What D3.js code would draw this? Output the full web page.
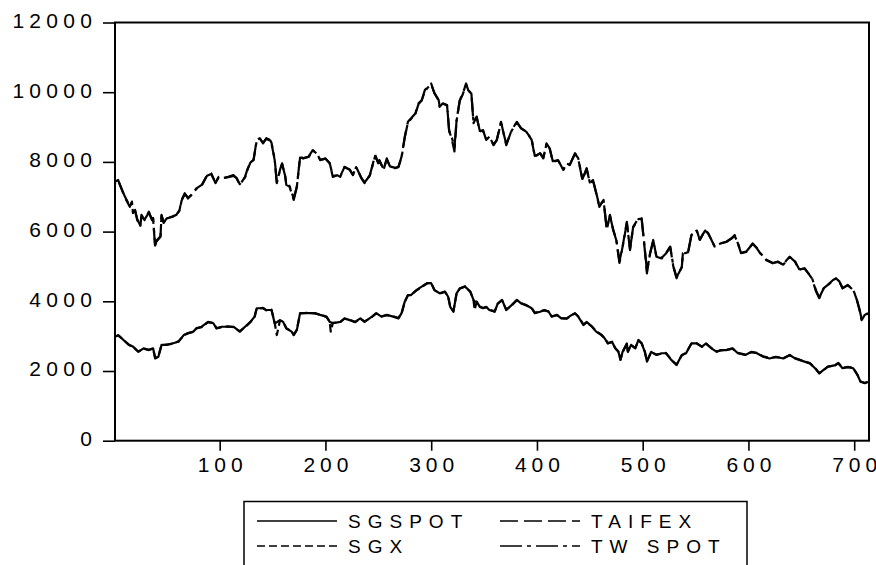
<!DOCTYPE html>
<html>
<head>
<meta charset="utf-8">
<script src="https://cdn.jsdelivr.net/npm/d3@7"></script>
<style>
  body { margin: 0; background: #fff; }
  svg { display: block; }
  text { font-family: "Liberation Sans", Arial, sans-serif; fill: #000; }
</style>
</head>
<body>
<svg id="chart" width="876" height="565"></svg>
<script>
// Observation numbers for the Taiwan index pair (TAIFEX futures, TW spot)
const obsUpper = [
  1,4,10,15,17,18,20,22,25,26,
  29,33,36,37,39,40,44,45,47,50,
  55,59,62,64,67,70,73,78,83,88,
  92,96,99,103,108,113,116,119,124,126,
  129,132,135,138,141,144,148,149,152,154,
  157,159,162,163,166,170,173,176,179,184,
  188,192,195,200,204,207,211,214,218,223,
  226,229,234,237,242,247,250,251,255,258,
  261,266,269,272,275,278,281,285,288,291,
  294,297,300,303,307,308,311,315,317,319,
  322,324,327,330,333,335,338,340,343,346,
  349,352,355,359,362,366,371,376,381,385,
  390,395,398,403,406,409,412,415,420,425,
  428,431,436,439,443,447,450,453,456,459,
  463,466,469,472,475,478,481,485,488,491,
  496,499,502,504,507,510,513,518,522,526,
  529,532,537,538,543,546,551,554,559,562,
  568,573,579,584,587,590,593,598,604,608,
  611,617,623,628,633,636,639,644,648,653,
  660,664,667,671,675,680,683,686,689,694,
  699,702,705,707,710,713
];
const taifex = [
  7430,7480,7000,6710,6860,6530,6620,6330,6140,6480,
  6330,6570,6330,6390,5530,5710,5850,6480,6250,6390,
  6430,6480,6620,6910,7100,6950,7050,7240,7340,7620,
  7670,7390,7570,7530,7570,7620,7530,7340,7570,7770,
  8000,8050,8630,8680,8530,8680,8630,8530,8050,7390,
  7770,7960,7570,7340,7290,6910,7290,8150,8100,8150,
  8340,8250,8050,8100,7960,7570,7620,7570,7860,7770,
  7620,7860,7530,7390,7620,8200,7960,8050,7770,8100,
  7860,7820,7860,8150,8720,9150,9250,9390,9680,9770,
  10060,10160,10250,9970,9770,9580,9680,9630,8870,8720,
  8300,9200,9770,9970,10250,10060,9970,9110,9300,8870,
  8910,8630,8720,8480,8630,9150,8480,8910,9150,8960,
  8870,8630,8150,8250,8100,8530,8390,8000,8050,7770,
  7960,7910,8250,8100,7480,7820,7390,7480,7100,6710,
  6910,6050,6480,6050,5760,5100,5570,6280,5470,6140,
  6380,6380,5470,4800,5380,5760,5280,5230,5380,5570,
  4990,4660,4990,5380,5420,5900,6050,5760,6050,5950,
  5570,5660,5710,5810,5900,5660,5380,5420,5660,5520,
  5380,5180,5090,5140,5040,5180,5280,5140,4900,4950,
  4660,4280,4090,4370,4470,4610,4660,4560,4370,4470,
  4320,4090,3750,3460,3610,3660
];
const twSpot = [
  7400,7460,7030,6730,6830,6560,6600,6360,6170,6450,
  6350,6540,6350,6370,5600,5730,5870,6450,6270,6380,
  6420,6470,6600,6890,7080,6970,7040,7230,7320,7600,
  7650,7410,7560,7540,7560,7600,7540,7360,7560,7750,
  7980,8060,8600,8660,8550,8660,8610,8550,8080,7420,
  7750,7940,7590,7360,7310,6950,7300,8120,8110,8140,
  8320,8240,8060,8090,7970,7600,7610,7590,7850,7780,
  7630,7850,7540,7410,7610,8170,7970,8040,7790,8080,
  7870,7830,7850,8130,8700,9130,9240,9370,9660,9760,
  10030,10140,10220,9980,9780,9600,9670,9620,8900,8760,
  8420,9180,9750,9950,10220,10050,9960,9140,9280,8890,
  8900,8650,8710,8500,8620,9120,8510,8890,9130,8970,
  8860,8650,8170,8240,8120,8510,8400,8020,8040,7790,
  7950,7920,8230,8110,7510,7800,7410,7470,7120,6740,
  6890,6080,6460,6070,5780,5150,5560,6250,5500,6120,
  6360,6370,5500,4870,5370,5740,5290,5250,5370,5560,
  5010,4690,4980,5360,5410,5880,6030,5770,6030,5940,
  5580,5650,5700,5800,5880,5670,5390,5430,5650,5530,
  5390,5190,5100,5130,5050,5170,5270,5150,4920,4940,
  4680,4300,4110,4360,4460,4600,4650,4570,4380,4460,
  4330,4110,3780,3490,3600,3650
];

// Observation numbers for the Singapore pair (SGX futures, SG spot)
const obsLower = [
  1,4,9,14,18,23,28,33,37,39,
  42,45,50,55,61,66,70,75,78,83,
  89,94,97,102,108,113,119,124,129,133,
  135,141,144,149,152,154,157,160,163,168,
  170,173,176,182,190,195,201,204,205,207,
  214,218,223,228,233,237,244,248,253,258,
  264,269,272,275,278,281,286,291,296,300,
  303,308,313,316,318,321,324,327,332,337,
  340,341,343,346,349,352,355,360,363,367,
  371,376,381,385,390,395,398,403,407,411,
  414,419,423,428,433,436,439,444,447,452,
  456,461,464,467,471,474,477,479,481,485,
  486,489,493,496,499,502,504,508,513,518,
  522,527,532,537,541,546,551,556,560,565,
  570,574,579,585,590,597,603,608,614,620,
  626,633,639,644,648,653,658,663,667,671,
  675,682,685,689,694,699,703,706,710,713
];
const sgSpot = [
  2980,3030,2890,2750,2700,2550,2650,2600,2650,2360,
  2410,2750,2750,2790,2840,3030,3080,3130,3220,3270,
  3410,3370,3220,3270,3270,3270,3130,3270,3410,3560,
  3800,3800,3750,3750,3370,3400,3460,3410,3220,3130,
  3030,3180,3660,3660,3660,3610,3560,3410,3400,3370,
  3410,3510,3460,3410,3510,3410,3560,3660,3560,3610,
  3560,3510,3660,3990,4180,4180,4320,4420,4520,4520,
  4320,4230,4280,4130,3840,3700,4230,4370,4420,4280,
  4040,3990,3990,3840,3800,3840,3750,3700,3940,4040,
  3750,3890,4040,3940,3890,3800,3660,3700,3750,3700,
  3560,3610,3510,3510,3610,3660,3560,3320,3410,3270,
  3130,3030,2940,2790,2840,2650,2550,2320,2550,2790,
  2550,2750,2650,2890,2790,2550,2270,2550,2460,2510,
  2510,2320,2170,2460,2510,2790,2790,2700,2790,2650,
  2550,2600,2600,2650,2510,2460,2550,2510,2410,2360,
  2410,2360,2460,2360,2320,2270,2220,2080,1930,2030,
  2120,2170,2220,2080,2120,2080,1890,1690,1650,1690
];
const sgx = [
  2990,3020,2900,2760,2690,2560,2640,2610,2640,2380,
  2420,2740,2760,2780,2850,3020,3090,3120,3230,3260,
  3400,3380,3230,3260,3280,3260,3140,3260,3400,3550,
  3790,3810,3740,3760,3380,3030,3450,3420,3230,3140,
  3040,3190,3650,3670,3650,3620,3550,3420,3130,3380,
  3400,3500,3470,3400,3500,3420,3550,3650,3570,3600,
  3570,3520,3650,3980,4170,4190,4310,4410,4510,4530,
  4330,4220,4270,4140,3850,3720,4220,4360,4430,4270,
  4050,3750,3980,3850,3810,3830,3760,3710,3930,4030,
  3760,3880,4030,3950,3880,3810,3670,3710,3740,3710,
  3570,3600,3520,3500,3600,3650,3570,3330,3400,3280,
  3140,3040,2950,2800,2830,2660,2560,2330,2540,2780,
  2560,2740,2660,2880,2800,2560,2280,2540,2470,2500,
  2520,2330,2180,2450,2520,2780,2800,2690,2780,2660,
  2560,2590,2610,2640,2520,2470,2540,2520,2420,2370,
  2400,2370,2450,2370,2330,2280,2230,2090,1940,2020,
  2130,2160,2230,2090,2110,2090,1900,1700,1660,1680
];

const yTicks = [0, 2000, 4000, 6000, 8000, 10000, 12000];
const xTicks = [100, 200, 300, 400, 500, 600, 700];

// Legend entries: label and dash pattern of each series
const seriesNames = ["SGSPOT", "SGX", "TAIFEX", "TW SPOT"];
const seriesDash = [null, "8,4", "18,6", "22,5,4,5"];

const svg = d3.select("#chart");
const plot = { left: 115, right: 869, top: 22.5, bottom: 440.7 };

const x = d3.scaleLinear().domain([1, 714]).range([plot.left, plot.right]);
const y = d3.scaleLinear().domain([0, 12000]).range([plot.bottom, plot.top]);

// Write a string as individual glyphs separated by a fixed extra gap
function spacedText(sel, str, gap) {
  sel.text(null);
  str.split("").forEach((c, i) => {
    sel.append("tspan").attr("dx", i ? gap : 0).text(c);
  });
}

const LS = 5.3; // extra spacing between tick-label digits

// Left axis
const yAxis = svg.append("g")
  .attr("transform", `translate(${plot.left},0)`)
  .call(d3.axisLeft(y).tickValues(yTicks).tickSize(12).tickPadding(0).tickFormat(d3.format("d")));
yAxis.select(".domain").remove();
yAxis.selectAll(".tick line").attr("stroke", "#000").attr("stroke-width", 1.6);
yAxis.selectAll(".tick text")
  .attr("x", -23)
  .attr("dy", null)
  .attr("y", 4.8)
  .style("font-size", "21px")
  .each(function (d) { spacedText(d3.select(this), String(d), LS); });

// Bottom axis
const xAxis = svg.append("g")
  .attr("transform", `translate(0,${plot.bottom})`)
  .call(d3.axisBottom(x).tickValues(xTicks).tickSize(10).tickPadding(0).tickFormat(d3.format("d")));
xAxis.select(".domain").remove();
xAxis.selectAll(".tick line").attr("stroke", "#000").attr("stroke-width", 1.6);
xAxis.selectAll(".tick text")
  .attr("y", 31)
  .attr("dy", null)
  .attr("dx", -3)
  .style("font-size", "21px")
  .each(function (d) { spacedText(d3.select(this), String(d), 4.9); });

// Dash pattern helpers: is a point at arc length L inside a dash?
function parseDash(s) { return s ? s.split(",").map(Number) : null; }
function isOn(pattern, L) {
  if (!pattern) return true;
  const period = pattern.reduce((a, b) => a + b, 0);
  let p = ((L % period) + period) % period;
  for (let i = 0; i < pattern.length; i++) {
    if (p < pattern[i]) return i % 2 === 0;
    p -= pattern[i];
  }
  return true;
}
// Choose the phase of the second dashed line of a pair so that the gaps of
// the two near-coincident lines overlap as little as possible.
function bestOffset(obs, valsA, dashA, valsB, dashB) {
  const pa = parseDash(dashA), pb = parseDash(dashB);
  const ptsA = obs.map((o, i) => [x(o), y(valsA[i])]);
  const ptsB = obs.map((o, i) => [x(o), y(valsB[i])]);
  const segA = [], segB = [];
  for (let k = 1; k < obs.length; k++) {
    segA.push(Math.hypot(ptsA[k][0] - ptsA[k - 1][0], ptsA[k][1] - ptsA[k - 1][1]));
    segB.push(Math.hypot(ptsB[k][0] - ptsB[k - 1][0], ptsB[k][1] - ptsB[k - 1][1]));
  }
  const periodB = pb.reduce((a, b) => a + b, 0);
  let best = 0, bestCost = Infinity;
  for (let off = 0; off < periodB; off += 0.5) {
    let cost = 0, cA = 0, cB = 0;
    for (let k = 0; k < segA.length; k++) {
      const n = Math.max(1, Math.ceil(segA[k]));
      for (let j = 0; j < n; j++) {
        const f = (j + 0.5) / n;
        const LA = cA + f * segA[k], LB = cB + f * segB[k] + off;
        if (!isOn(pa, LA) && !isOn(pb, LB)) cost += segA[k] / n;
      }
      cA += segA[k]; cB += segB[k];
    }
    if (cost < bestCost) { bestCost = cost; best = off; }
  }
  return best;
}
const twOffset = bestOffset(obsUpper, taifex, seriesDash[2], twSpot, seriesDash[3]);
const sgxOffset = 0;

// Series lines
const line = d3.line().x(d => x(d[0])).y(d => y(d[1]));
const series = [
  { obs: obsLower, vals: sgSpot, dash: seriesDash[0], offset: 0 },
  { obs: obsLower, vals: sgx, dash: seriesDash[1], offset: sgxOffset },
  { obs: obsUpper, vals: taifex, dash: seriesDash[2], offset: 0 },
  { obs: obsUpper, vals: twSpot, dash: seriesDash[3], offset: twOffset }
];
const gLines = svg.append("g");
series.forEach(s => {
  gLines.append("path")
    .datum(s.obs.map((o, i) => [o, s.vals[i]]))
    .attr("d", line)
    .attr("fill", "none")
    .attr("stroke", "#000")
    .attr("stroke-width", 2.2)
    .attr("stroke-linejoin", "round")
    .attr("stroke-dasharray", s.dash)
    .attr("stroke-dashoffset", s.offset);
});

// Frame
svg.append("rect")
  .attr("x", plot.left).attr("y", plot.top)
  .attr("width", plot.right - plot.left).attr("height", plot.bottom - plot.top)
  .attr("fill", "none").attr("stroke", "#000").attr("stroke-width", 2);

// Legend
const leg = svg.append("g");
leg.append("rect")
  .attr("x", 244).attr("y", 501.5).attr("width", 503).attr("height", 80)
  .attr("fill", "none").attr("stroke", "#000").attr("stroke-width", 1.5);
const legPos = [
  { lx: 257, ty: 521 }, { lx: 257, ty: 546 },
  { lx: 500, ty: 521 }, { lx: 500, ty: 546 }
];
seriesNames.forEach((name, i) => {
  const p = legPos[i];
  leg.append("line")
    .attr("x1", p.lx).attr("x2", p.lx + 80)
    .attr("y1", p.ty).attr("y2", p.ty)
    .attr("stroke", "#000").attr("stroke-width", 1.6)
    .attr("stroke-dasharray", seriesDash[i]);
  const t = leg.append("text")
    .attr("x", p.lx + 91).attr("y", p.ty + 7)
    .style("font-size", "19px");
  spacedText(t, name, 7);
});
</script>
</body>
</html>
